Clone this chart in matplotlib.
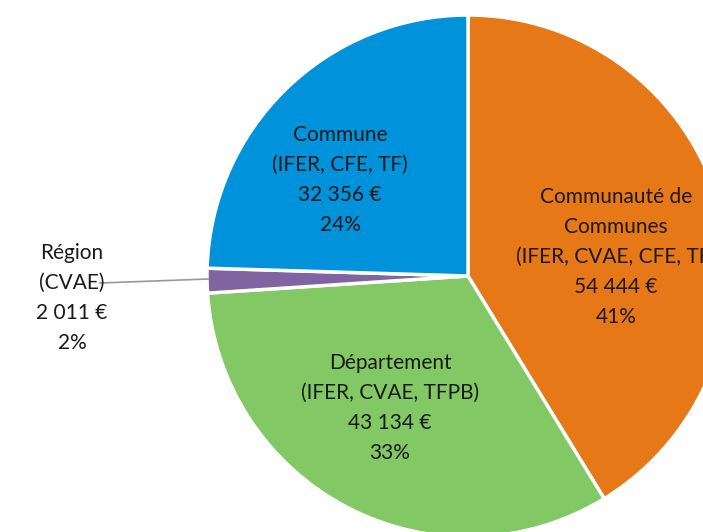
import numpy as np
import matplotlib.pyplot as plt

# montants par collectivité (euros), sens horaire depuis le haut
names = ['Communauté de\nCommunes', 'Département', 'Région', 'Commune']
taxes = ['(IFER, CVAE, CFE, TF)', '(IFER, CVAE, TFPB)', '(CVAE)', '(IFER, CFE, TF)']
amounts = [54444, 43134, 2011, 32356]
amount_labels = ['54 444 €', '43 134 €', '2 011 €', '32 356 €']
pct_labels = ['41%', '33%', '2%', '24%']
colors = ['#E77817', '#82C864', '#8064A2', '#0092DA']

W, H = 703, 532
fig = plt.figure(figsize=(W / 100, H / 100), dpi=100)
ax = fig.add_axes([0, 0, 1, 1])

cx, cy, r = 468, H - 276, 261
ax.pie(amounts, colors=colors, startangle=90, counterclock=False,
       center=(cx, cy), radius=r, frame=True,
       wedgeprops=dict(edgecolor='white', linewidth=2.5))
ax.set_xlim(0, W)
ax.set_ylim(0, H)
ax.set_aspect('equal')
ax.axis('off')

font = dict(family='Lato', fontsize=15, ha='center', va='center',
            linespacing=1.62, color='#1a1a1a')

# positions des étiquettes (pixels, origine en bas)
label_pos = [(616, H - 257), (390, H - 408), (72, H - 298), (340, H - 180)]
for i, (x, y) in enumerate(label_pos):
    txt = names[i] + '\n' + taxes[i] + '\n' + amount_labels[i] + '\n' + pct_labels[i]
    ax.text(x, y, txt, **font)

# ligne de rappel pour la Région
ax.plot([100, 208], [H - 283, H - 279], color='#999999', lw=1.2)

fig.savefig('out.png', dpi=100, facecolor='white')
